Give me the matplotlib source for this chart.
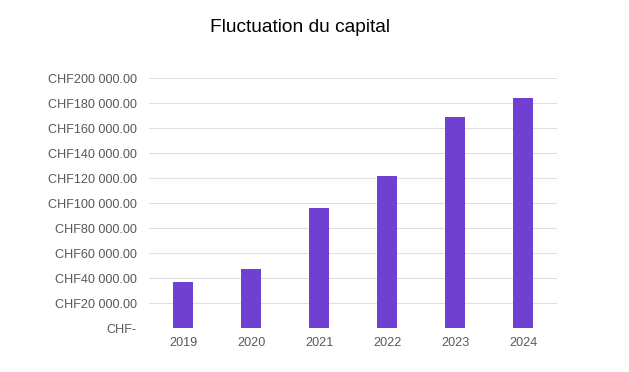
import matplotlib
matplotlib.use('Agg')
import matplotlib.pyplot as plt
from matplotlib.ticker import FuncFormatter, MultipleLocator

plt.rcParams['font.family'] = ['Liberation Sans', 'DejaVu Sans']

years = ['2019', '2020', '2021', '2022', '2023', '2024']
capital = [37300, 47700, 96300, 121600, 169000, 184000]


def chf(v, pos):
    if v == 0:
        return 'CHF-'
    return 'CHF{:,.2f}'.format(v).replace(',', ' ')


fig = plt.figure(figsize=(6.29, 3.72), dpi=100)
ax = fig.add_axes([0.237, 0.1175, 0.649, 0.6725])

ax.bar(years, capital, width=0.3, color='#7040d0', zorder=3)

ax.set_ylim(0, 200000)
ax.set_xlim(-0.5, len(years) - 0.5)
ax.yaxis.set_major_locator(MultipleLocator(20000))
ax.yaxis.set_major_formatter(FuncFormatter(chf))
ax.grid(axis='y', color='#e0e0e0', linewidth=0.8, zorder=0)
for s in ax.spines.values():
    s.set_visible(False)
ax.tick_params(length=0, labelsize=9.1, colors='#595959', pad=9)
ax.tick_params(axis='x', pad=6)

fig.text(0.477, 0.925, 'Fluctuation du capital', ha='center', va='center',
         fontsize=13.8, color='black')

fig.savefig('out.png', dpi=100)
